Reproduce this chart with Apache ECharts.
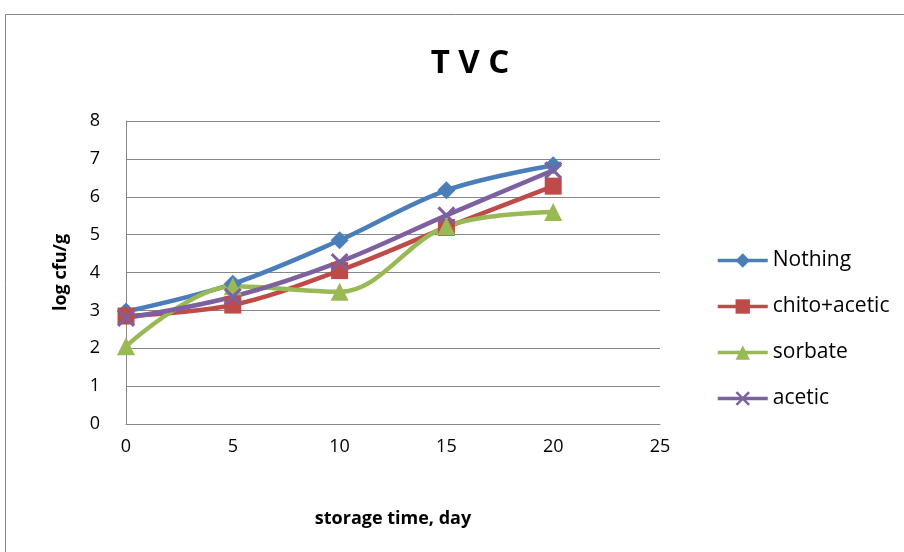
<!DOCTYPE html>
<html><head><meta charset="utf-8">
<script src="https://cdn.jsdelivr.net/npm/echarts@6/dist/echarts.min.js"></script>
<style>html,body{margin:0;padding:0;background:#fff}#c{width:904px;height:552px}</style>
</head><body><div id="c"></div>
<script>
const days = [0, 5, 10, 15, 20];
const nothing = [2.97, 3.7, 4.85, 6.17, 6.83];
const chitoAcetic = [2.85, 3.14, 4.05, 5.19, 6.28];
const sorbate = [2.05, 3.64, 3.49, 5.22, 5.6];
const acetic = [2.8, 3.36, 4.28, 5.51, 6.7];
const seriesNames = ['Nothing', 'chito+acetic', 'sorbate', 'acetic'];
const colors = ['#4A7EBB', '#BE4B48', '#98B954', '#7D60A0'];
const xPath = 'path://M0,1.2 L1.2,0 L5,3.8 L8.8,0 L10,1.2 L6.2,5 L10,8.8 L8.8,10 L5,6.2 L1.2,10 L0,8.8 L3.8,5 Z';
const symbols = ['diamond', 'rect', 'triangle', xPath];
const sizes = [18, 17, 18, 18];
const all = [nothing, chitoAcetic, sorbate, acetic];
const font = "'Open Sans',sans-serif";
const chart = echarts.init(document.getElementById('c'));
chart.setOption({
  animation: false,
  title: {text: 'T V C', left: 465, top: 42, textAlign: 'center',
    textStyle: {fontFamily: font, fontSize: 33, fontWeight: 'bold', color: '#000'}},
  graphic: [{type: 'rect', shape: {x: 5.5, y: 14.5, width: 1000, height: 1000},
    style: {fill: 'none', stroke: '#888', lineWidth: 1}, silent: true}],
  legend: {orient: 'vertical', left: 711, top: 245, itemGap: 25, itemWidth: 50, itemHeight: 18,
    lineStyle: {width: 3.5},
    textStyle: {fontFamily: font, fontSize: 21, color: '#000'},
    data: seriesNames},
  grid: {left: 126, right: 244, top: 121, bottom: 128},
  xAxis: {type: 'value', min: 0, max: 25, interval: 5,
    name: 'storage time, day', nameLocation: 'middle', nameGap: 86,
    nameTextStyle: {fontFamily: font, fontSize: 18, fontWeight: 'bold', color: '#000'},
    axisLine: {lineStyle: {color: '#888'}}, axisTick: {show: false},
    splitLine: {show: false},
    axisLabel: {fontFamily: font, fontSize: 18, color: '#000', margin: 14}},
  yAxis: {type: 'value', min: 0, max: 8, interval: 1,
    name: 'log cfu/g', nameLocation: 'middle', nameGap: 56, nameRotate: 90,
    nameTextStyle: {fontFamily: font, fontSize: 18, fontWeight: 'bold', color: '#000'},
    axisLine: {show: true, lineStyle: {color: '#888'}}, axisTick: {show: false},
    splitLine: {lineStyle: {color: '#888'}},
    axisLabel: {fontFamily: font, fontSize: 18, color: '#000', margin: 26}},
  series: all.map((vals, i) => ({
    name: seriesNames[i], type: 'line', smooth: 0.35,
    data: days.map((d, j) => [d, vals[j]]),
    symbol: symbols[i], symbolSize: sizes[i],
    lineStyle: {width: 4.5, color: colors[i]},
    itemStyle: {color: colors[i]}
  }))
});
</script></body></html>
